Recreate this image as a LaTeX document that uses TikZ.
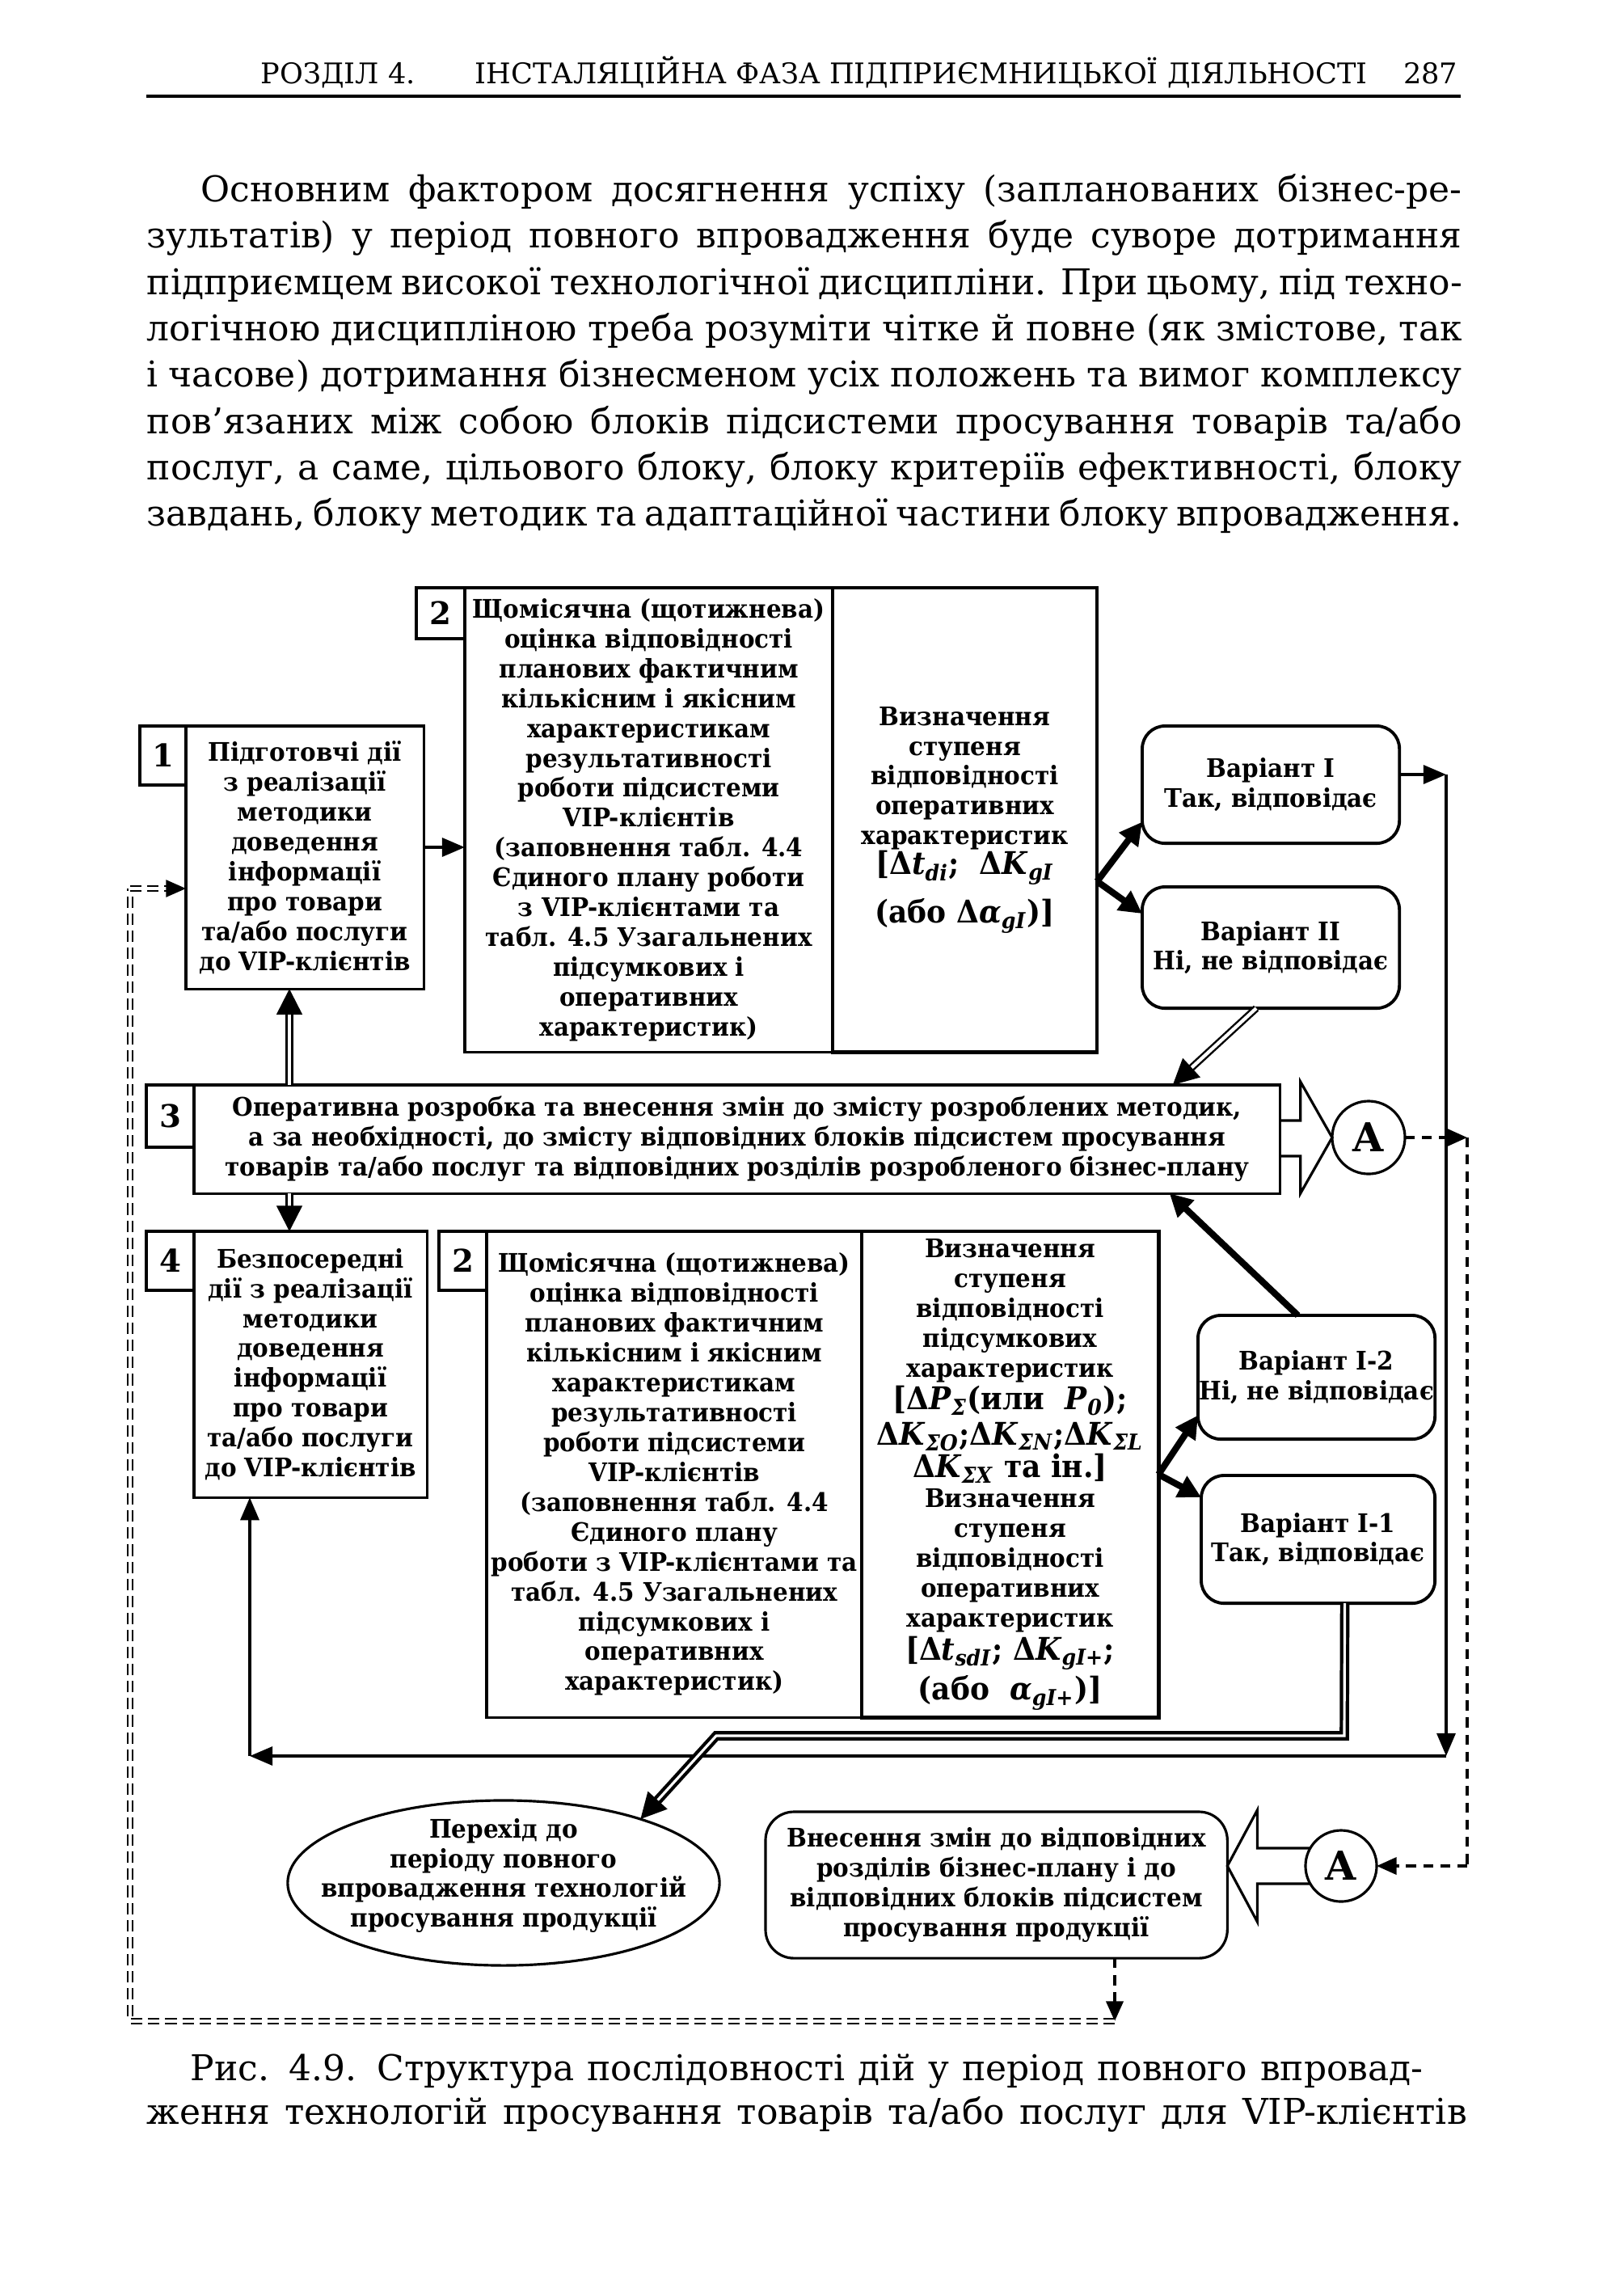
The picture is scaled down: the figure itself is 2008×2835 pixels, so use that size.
\documentclass[tikz,border=0pt]{standalone}
\usepackage{fontspec}
\setmainfont{DejaVu Serif}
\newfontfamily\dgfam{DejaVu Serif}[FakeStretch=0.93]
\usepackage{tikz}
\usetikzlibrary{arrows.meta, shapes.geometric, calc}

\newcommand{\dfont}{\dgfam\fontsize{9}{10.5}\selectfont\bfseries}
\newcommand{\fml}{\fontsize{11}{12.5}\selectfont}
\newcommand{\lowi}[1]{\textsubscript{\textit{#1}}}
\newcommand{\flatlines}[1]{\makebox[0pt]{\smash{\setlength{\tabcolsep}{0pt}\begin{tabular}{c}#1\end{tabular}}}}

\begin{document}
\begin{tikzpicture}[x=0.01cm, y=-0.01cm,
    % ── Boxes ────────────────────────────────────────────────────────
    box/.style={draw, line width=0.9pt, align=center, inner sep=0pt, outer sep=0pt,
                anchor=north west, font=\dfont},
    numbox/.style={box, font=\fontsize{11}{13}\selectfont\bfseries},
    colbox/.style={box, line width=1.3pt},
    varbox/.style={box, rounded corners=8pt, line width=1.1pt},
    circ/.style={draw, circle, line width=0.9pt, inner sep=0pt, outer sep=0pt,
                 minimum size=0.9cm, font=\fontsize{14}{16}\selectfont\bfseries},
    % ── Arrows ───────────────────────────────────────────────────────
    arrow/.style={line width=1.1pt, -{Triangle[length=8pt, width=6.5pt]}},
    tarrow/.style={line width=2.3pt, -{Triangle[length=8pt, width=8pt]}},
    darrow/.style={double, line width=0.7pt, double distance=1.2pt,
                   -{Triangle[length=9pt, width=9pt]}},
    tdarrow/.style={double, line width=1.2pt, double distance=0.9pt,
                    -{Triangle[length=9pt, width=9pt]}},
    dline/.style={line width=1pt, dash pattern=on 3.5pt off 2.5pt},
    ddline/.style={double, line width=0.6pt, double distance=1.1pt,
                   dash pattern=on 4pt off 2pt},
    blk/.style={line width=0.9pt, line join=miter},
    % ── Page text ────────────────────────────────────────────────────
    hdr/.style={inner sep=0pt, font=\fontsize{10}{12}\selectfont},
    body/.style={inner sep=0pt, anchor=base west, font=\fontsize{12.5}{16}\selectfont}
]
\useasboundingbox[fill=white] (0,0) rectangle (2008,2835);

% ══════════════════════════════════════════════════════════════════════
% PAGE HEADER AND TEXT
% ══════════════════════════════════════════════════════════════════════
    \node[hdr, anchor=base west] (hl) at (322,103) {РОЗДІЛ 4.};
    \node[hdr, anchor=base west] (hm) at (587,103) {ІНСТАЛЯЦІЙНА ФАЗА ПІДПРИЄМНИЦЬКОЇ ДІЯЛЬНОСТІ};
    \node[hdr, anchor=base east] (hr) at (1804,103) {287};
    \draw[line width=1.1pt] (181,119) -- (1807,119);

    \node[body] (p1) at (248,249) {\makebox[15.59cm][s]{Основним фактором досягнення успіху (запланованих бізнес-ре-}};
    \node[body] (p2) at (181,306) {\makebox[16.26cm][s]{зультатів) у період повного впровадження буде суворе дотримання}};
    \node[body] (p3) at (181,364) {\makebox[16.26cm][s]{підприємцем високої технологічної дисципліни. При цьому, під техно-}};
    \node[body] (p4) at (181,421) {\makebox[16.26cm][s]{логічною дисципліною треба розуміти чітке й повне (як змістове, так}};
    \node[body] (p5) at (181,478) {\makebox[16.26cm][s]{і часове) дотримання бізнесменом усіх положень та вимог комплексу}};
    \node[body] (p6) at (181,536) {\makebox[16.26cm][s]{пов'язаних між собою блоків підсистеми просування товарів та/або}};
    \node[body] (p7) at (181,593) {\makebox[16.26cm][s]{послуг, а саме, цільового блоку, блоку критеріїв ефективності, блоку}};
    \node[body] (p8) at (181,650) {\makebox[16.26cm][s]{завдань, блоку методик та адаптаційної частини блоку впровадження.}};

% ══════════════════════════════════════════════════════════════════════
% BLOCKS
% ══════════════════════════════════════════════════════════════════════

    % ── Block 1 and upper block 2 ──
    \node[numbox, minimum width=0.57cm, minimum height=0.73cm] (b1n) at (173,898) {1};
    \node[box, minimum width=2.94cm, minimum height=3.25cm] (b1) at (230,898) {
        Підготовчі дії\\з реалізації\\методики\\доведення\\інформації\\про товари\\та/або послуги\\до VIP-клієнтів};
    \node[numbox, minimum width=0.60cm, minimum height=0.63cm] (b2n) at (515,727) {2};
    \node[box, minimum width=4.55cm, minimum height=5.74cm] (b2) at (575,727) {
        Щомісячна (щотижнева)\\оцінка відповідності\\планових фактичним\\кількісним і якісним\\характеристикам\\результативності\\роботи підсистеми\\VIP-клієнтів\\(заповнення табл. 4.4\\Єдиного плану роботи\\з VIP-клієнтами та\\табл. 4.5 Узагальнених\\підсумкових і\\оперативних\\характеристик)};
    \node[colbox, minimum width=3.27cm, minimum height=5.74cm] (v1) at (1030,727) {
        Визначення\\ступеня\\відповідності\\оперативних\\характеристик\\
        {\fml[Δ\textit{t}\lowi{di};\ \ Δ\textit{K}\lowi{gI}}\\[4pt]
        {\fml(або Δ\textit{α}\lowi{gI})]}};

    % ── Variants I / II ──
    \node[varbox, minimum width=3.18cm, minimum height=1.45cm] (var1) at (1413,898) {Варіант I\\Так, відповідає};
    \node[varbox, minimum width=3.18cm, minimum height=1.50cm] (var2) at (1413,1097) {Варіант II\\Ні, не відповідає};

    % ── Block 3 ──
    \node[numbox, minimum width=0.59cm, minimum height=0.77cm] (b3n) at (181,1342) {3};
    \node[box, minimum width=13.43cm, minimum height=1.34cm] (b3) at (240,1342) {
        Оперативна розробка та внесення змін до змісту розроблених методик,\\
        а за необхідності, до змісту відповідних блоків підсистем просування\\
        товарів та/або послуг та відповідних розділів розробленого бізнес-плану};
    \node[circ] (ca1) at (1693,1407) {A};

    % ── Block 4 and lower block 2 ──
    \node[numbox, minimum width=0.59cm, minimum height=0.73cm] (b4n) at (181,1523) {4};
    \node[box, minimum width=2.88cm, minimum height=3.29cm] (b4) at (240,1523) {
        Безпосередні\\дії з реалізації\\методики\\доведення\\інформації\\про товари\\та/або послуги\\до VIP-клієнтів};
    \node[numbox, minimum width=0.59cm, minimum height=0.73cm] (b5n) at (543,1523) {2};
    \node[box, minimum width=4.64cm, minimum height=6.01cm] (b5) at (602,1523) {
        Щомісячна (щотижнева)\\оцінка відповідності\\планових фактичним\\кількісним і якісним\\характеристикам\\результативності\\роботи підсистеми\\VIP-клієнтів\\(заповнення табл. 4.4\\Єдиного плану\\роботи з VIP-клієнтами та\\табл. 4.5 Узагальнених\\підсумкових і\\оперативних\\характеристик)};
    \node[colbox, minimum width=3.67cm, minimum height=6.01cm] (v2) at (1066,1523) {
        Визначення\\ступеня\\відповідності\\підсумкових\\характеристик\\[1pt]
        {\fml[Δ\textit{P}\lowi{Σ}(или\ \ \textit{P}\lowi{0});}\\[2pt]
        {\fml Δ\textit{K}\lowi{ΣO};Δ\textit{K}\lowi{ΣN};Δ\textit{K}\lowi{ΣL}}\\[1pt]
        {\fml Δ\textit{K}\lowi{ΣX} та ін.]}\\
        Визначення\\ступеня\\відповідності\\оперативних\\характеристик\\[1pt]
        {\fml[Δ\textit{t}\lowi{sdI};\ Δ\textit{K}\lowi{gI+};}\\[1pt]
        {\fml(або\ \ \textit{α}\lowi{gI+})]}};

    % ── Variants I-2 / I-1 ──
    \node[varbox, minimum width=2.93cm, minimum height=1.53cm] (var3) at (1482,1627) {Варіант I-2\\Ні, не відповідає};
    \node[varbox, minimum width=2.89cm, minimum height=1.58cm] (var4) at (1486,1825) {Варіант I-1\\Так, відповідає};

    % ── Final blocks ──
    \node[draw, ellipse, line width=0.9pt, inner sep=0pt, outer sep=0pt, font=\dfont,
          minimum width=5.34cm, minimum height=2.04cm] (ell) at (623,2329) {
        \flatlines{Перехід до\\періоду повного\\впровадження технологій\\просування продукції}};
    \node[box, rounded corners=10pt, minimum width=5.71cm, minimum height=1.81cm] (chg) at (947,2241) {
        Внесення змін до відповідних\\розділів бізнес-плану і до\\відповідних блоків підсистем\\просування продукції};
    \node[circ, minimum size=0.88cm] (ca2) at (1659,2308) {A};

    % ── Caption ──
    \node[body] (cap1) at (235,2573) {\makebox[15.24cm][s]{Рис. 4.9. Структура послідовності дій у період повного впровад-}};
    \node[body] (cap2) at (181,2627) {\makebox[16.32cm][s]{ження технологій просування товарів та/або послуг для VIP-клієнтів}};

% ══════════════════════════════════════════════════════════════════════
% CONNECTIONS
% ══════════════════════════════════════════════════════════════════════
    \coordinate (a12) at (524,1048);
    \coordinate (ax) at (358,1400);
    \coordinate (rt) at (1789,958);
    \coordinate (rb) at (1789,2172);
    \coordinate (lb) at (309,2172);
    \coordinate (k1) at (1663,2147);
    \coordinate (k2) at (886,2147);
    \coordinate (dr1) at (1815,1407);
    \coordinate (dr2) at (1815,2308);
    \coordinate (fb) at (1379,2500);
    \coordinate (fl) at (161,2500);
    \coordinate (ft) at (161,1099);

    \draw[arrow] (a12) -- (a12 -| b2.west);
    \draw[darrow] (ax |- b3.north) -- (ax |- b1.south);
    \draw[darrow] (ax |- b3.south) -- (ax |- b4.north);

    \draw[tarrow] ($(v1.east)+(0,76)$) -- ($(var1.west)+(0,46)$);
    \draw[tarrow] ($(v1.east)+(0,76)$) -- ($(var2.west)+(0,-42)$);
    \draw[darrow] ($(var2.south)+(-18,0)$) -- ($(b3.north east)+(-133,0)$);

    \draw[tarrow] (v2.east) -- ($(var3.west)+(0,47)$);
    \draw[tarrow] (v2.east) -- ($(var4.west)+(0,-52)$);
    \draw[tarrow] ($(var3.north)+(-23,0)$) -- ($(b3.south east)+(-137,0)$);

    \draw[arrow] (var1.east |- rt) -- (rt);
    \draw[arrow] (rt) -- (rb);
    \draw[arrow] (rb) -- (lb);
    \draw[arrow] (lb) -- (lb |- b4.south);

    \draw[tdarrow] ($(var4.south)+(33,0)$) -- (k1) -- (k2) -- (ell.25);

    % block arrows to and from A
    \draw[blk] ($(b3.east)+(0,-23)$) -- ++(25,0) -- ++(0,-48) -- (ca1.west)
        -- ($(b3.east)+(25,67)$) -- ++(0,-46) -- ($(b3.east)+(0,21)$);
    \draw[blk] ($(ca2.west)+(6,-22)$) -- ($(chg.east |- ca2.center)+(37,-22)$) -- ++(0,-47)
        -- (chg.east |- ca2.center) -- ($(chg.east |- ca2.center)+(37,69)$) -- ++(0,-47)
        -- ($(ca2.west)+(6,22)$);

    % dashed links
    \draw[dline, -{Triangle[length=7pt, width=6pt]}] (ca1.east) -- (dr1);
    \draw[dline] (dr1) -- (dr2);
    \draw[dline, -{Triangle[length=7pt, width=6pt]}] (dr2) -- (ca2.east);
    \draw[dline, -{Triangle[length=7pt, width=6pt]}] (chg.south -| fb) -- (fb);
    \draw[ddline] (fb) -- (fl) -- (ft);
    \draw[ddline, -{Triangle[length=7pt, width=6pt]}] (ft) -- (ft -| b1.west);

\end{tikzpicture}
\end{document}
